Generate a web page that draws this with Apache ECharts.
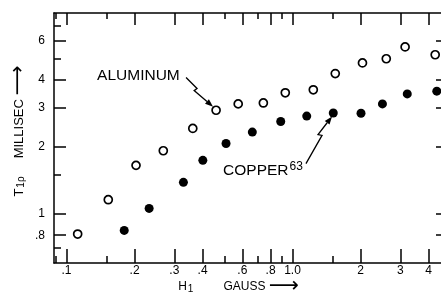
<!DOCTYPE html>
<html>
<head>
<meta charset="utf-8">
<script src="https://cdn.jsdelivr.net/npm/echarts@6/dist/echarts.min.js"></script>
<style>
html, body { margin: 0; padding: 0; background: #fff; }
#chart { width: 441px; height: 295px; }
</style>
</head>
<body>
<div id="chart"></div>
<script>
// H1 (gauss) and T1rho (millisec)
const aluminumH = [0.112, 0.153, 0.203, 0.268, 0.362, 0.459, 0.575, 0.743, 0.929, 1.236, 1.546, 2.04, 2.60, 3.15, 4.28];
const aluminumT = [0.81, 1.156, 1.65, 1.92, 2.42, 2.92, 3.12, 3.15, 3.50, 3.61, 4.27, 4.77, 4.98, 5.63, 5.19];
const copperH = [0.180, 0.232, 0.329, 0.401, 0.508, 0.664, 0.887, 1.156, 1.515, 2.01, 2.50, 3.22, 4.35];
const copperT = [0.841, 1.056, 1.384, 1.738, 2.07, 2.33, 2.60, 2.75, 2.84, 2.83, 3.12, 3.46, 3.56];

const xTicks = [0.1, 0.2, 0.3, 0.4, 0.6, 0.8, 1, 2, 3, 4];
const xTickLabels = ['.1', '.2', '.3', '.4', '.6', '.8', '1.0', '2', '3', '4'];
const xMinorTicks = [0.09, 0.15, 0.5, 0.7, 0.9, 1.5];
const yTicks = [0.8, 1, 2, 3, 4, 6];
const yTickLabels = ['.8', '1', '2', '3', '4', '6'];
const yMinorTicks = [0.7, 1.5, 5, 7];

// annotations, in data units
const noteText = ['ALUMINUM', 'COPPER{sup|63}'];
const noteAt = [[0.1365, 4.18], [0.493, 1.56]];
const notePath = [
   [[0.338, 4.10], [0.378, 3.66], [0.367, 3.58], [0.445, 3.03]],
   [[1.147, 1.68], [1.351, 2.25], [1.297, 2.27], [1.496, 2.74]]
];

const FONT = '"Liberation Sans", Arial, sans-serif';
const ink = { color: '#000', width: 1.5 };

const pickLabel = (ticks, labels) => (v) => {
   for (let i = 0; i < ticks.length; i++) {
      if (Math.abs(ticks[i] - v) < 1e-6 * ticks[i]) return labels[i];
   }
   return '';
};

const xRange = { min: 0.088, max: 4.73 };
const yRange = { min: 0.6, max: 8 };

const makeX = (pos, ticks, len, showLine, label) => ({
   type: 'log', logBase: 10, position: pos, ...xRange,
   axisLine: { show: showLine, lineStyle: ink },
   axisTick: { show: true, inside: true, length: len, customValues: ticks, lineStyle: ink },
   axisLabel: label ? {
      show: true, customValues: xTicks, margin: 2,
      formatter: pickLabel(xTicks, xTickLabels),
      color: '#000', fontSize: 12, fontFamily: FONT
   } : { show: false },
   splitLine: { show: false }
});
const makeY = (pos, ticks, len, showLine, label) => ({
   type: 'log', logBase: 10, position: pos, ...yRange,
   axisLine: { show: showLine, lineStyle: ink },
   axisTick: { show: true, inside: true, length: len, customValues: ticks, lineStyle: ink },
   axisLabel: label ? {
      show: true, customValues: yTicks, margin: 9,
      formatter: pickLabel(yTicks, yTickLabels),
      color: '#000', fontSize: 12, fontFamily: FONT
   } : { show: false },
   splitLine: { show: false }
});

const nameRich = {
   sub: { fontSize: 10, verticalAlign: 'bottom', lineHeight: 14, padding: [6, 0, 0, 1], fontFamily: FONT, color: '#000' },
   arr: { fontSize: 21, lineHeight: 14, fontFamily: '"DejaVu Sans"', color: '#000' }
};

const xMain = makeX('bottom', xTicks, 14, true, true);
xMain.name = 'H{sub|1}         GAUSS {arr|⟶}';
xMain.nameLocation = 'middle';
xMain.nameMoveOverlap = false;
xMain.nameGap = 17;
xMain.nameTextStyle = { color: '#000', fontSize: 12, lineHeight: 14, fontFamily: FONT, padding: [0, 22, 0, 0], rich: nameRich };
const yMain = makeY('left', yTicks, 12, true, true);
yMain.name = 'T{sub|1ρ}     MILLISEC {arr|⟶}';
yMain.nameLocation = 'middle';
yMain.nameMoveOverlap = false;
yMain.nameGap = 28;
yMain.nameTextStyle = { color: '#000', fontSize: 13, lineHeight: 14, fontFamily: FONT, padding: [0, 0, 0, 14], rich: nameRich };

const chart = echarts.init(document.getElementById('chart'));
chart.setOption({
   animation: false,
   backgroundColor: '#fff',
   grid: { left: 54, top: 13, right: -4, bottom: 32, outerBoundsMode: 'none', containLabel: false },
   xAxis: [
      xMain,
      makeX('bottom', xMinorTicks, 7, false, false),
      makeX('top', xTicks, 12, true, false),
      makeX('top', xMinorTicks, 6, false, false)
   ],
   yAxis: [
      yMain,
      makeY('left', yMinorTicks, 7, false, false),
      makeY('right', yTicks, 9, true, false)
   ],
   series: [
      {
         name: 'Aluminum', type: 'scatter', xAxisIndex: 0, yAxisIndex: 0,
         symbol: 'circle', symbolSize: 8,
         itemStyle: { color: '#fff', borderColor: '#000', borderWidth: 1.7, opacity: 1 },
         data: aluminumH.map((h, i) => [h, aluminumT[i]])
      },
      {
         name: 'Copper63', type: 'scatter', xAxisIndex: 0, yAxisIndex: 0,
         symbol: 'circle', symbolSize: 9,
         itemStyle: { color: '#000', opacity: 1 },
         data: copperH.map((h, i) => [h, copperT[i]])
      },
      {
         type: 'custom', xAxisIndex: 0, yAxisIndex: 0, silent: true,
         data: noteAt,
         renderItem: (params, api) => {
            const i = params.dataIndex;
            const at = api.coord(noteAt[i]);
            const pts = notePath[i].map((p) => api.coord(p));
            const n = pts.length;
            const [x1, y1] = pts[n - 2];
            const [x2, y2] = pts[n - 1];
            const a = Math.atan2(y2 - y1, x2 - x1);
            const bx = x2 - 8 * Math.cos(a), by = y2 - 8 * Math.sin(a);
            const head = [
               [x2, y2],
               [bx - 3 * Math.sin(a), by + 3 * Math.cos(a)],
               [bx + 3 * Math.sin(a), by - 3 * Math.cos(a)]
            ];
            return {
               type: 'group',
               children: [
                  {
                     type: 'text', x: at[0], y: at[1],
                     style: {
                        text: noteText[i], fill: '#000', fontSize: 15.5, fontFamily: FONT,
                        align: 'left', verticalAlign: 'middle',
                        rich: { sup: { fontSize: 12, fontFamily: FONT, fill: '#000', verticalAlign: 'top', padding: [0, 0, 8, 1] } }
                     }
                  },
                  {
                     type: 'polyline',
                     shape: { points: pts.slice(0, n - 1).concat([[bx, by]]) },
                     style: { stroke: '#000', lineWidth: 1.3, fill: null }
                  },
                  { type: 'polygon', shape: { points: head }, style: { fill: '#000' } }
               ]
            };
         }
      }
   ]
});
</script>
</body>
</html>
